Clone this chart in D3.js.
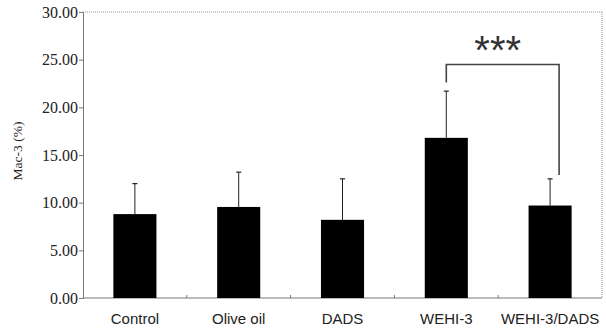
<!DOCTYPE html>
<html>
<head>
<meta charset="utf-8">
<script src="https://cdn.jsdelivr.net/npm/d3@7"></script>
<style>
  body { margin: 0; background: #fff; }
</style>
</head>
<body>
<div id="chart"></div>
<script>
var w = 606;
var h = 329;

var categories = ["Control", "Olive oil", "DADS", "WEHI-3", "WEHI-3/DADS"];
var means = [8.8, 9.55, 8.2, 16.8, 9.7];
var errors = [3.2, 3.65, 4.3, 4.9, 2.8];
var yTicks = [0, 5, 10, 15, 20, 25, 30];
// significance bracket between WEHI-3 and WEHI-3/DADS
var sigPair = ["WEHI-3", "WEHI-3/DADS"];
var sigLabel = "***";
var sigTop = 24.5;
var sigLeftEnd = 22.6;
var sigRightEnd = 12.9;

var margin = {left: 83, right: 4, top: 12, bottom: 31};

var svg = d3.select("#chart").append("svg")
            .attr("width", w)
            .attr("height", h);

var x = d3.scaleBand()
          .domain(categories)
          .range([margin.left, w - margin.right])
          .paddingInner(0.585)
          .paddingOuter(0.2925);

var step = x.step();

var y = d3.scaleLinear()
          .domain([0, 30])
          .range([h - margin.bottom, margin.top]);

// frame: dotted top and right
svg.append("line")
   .attr("x1", margin.left).attr("x2", w - margin.right)
   .attr("y1", y(30)).attr("y2", y(30))
   .attr("stroke", "#999").attr("stroke-width", 1)
   .attr("stroke-dasharray", "1,1");
svg.append("line")
   .attr("x1", w - margin.right).attr("x2", w - margin.right)
   .attr("y1", y(30)).attr("y2", y(0))
   .attr("stroke", "#999").attr("stroke-width", 1)
   .attr("stroke-dasharray", "1,1");

// y axis
var yAxis = d3.axisLeft(y)
              .tickValues(yTicks)
              .tickSize(4)
              .tickFormat(d3.format(".2f"));
var gy = svg.append("g")
            .attr("transform", "translate(" + margin.left + ",0)")
            .call(yAxis);
gy.select(".domain").attr("stroke", "#777");
gy.selectAll(".tick line").attr("stroke", "#777");
gy.selectAll(".tick text")
  .attr("x", -5)
  .style("font-family", "'Liberation Serif', 'Times New Roman', serif")
  .style("font-size", "16px")
  .attr("fill", "#222");

// x axis with category boundary ticks inside
svg.append("line")
   .attr("x1", margin.left).attr("x2", w - margin.right)
   .attr("y1", y(0)).attr("y2", y(0))
   .attr("stroke", "#777").attr("stroke-width", 1);
svg.selectAll(".xtick")
   .data(categories.slice(1))
   .enter()
   .append("line")
   .attr("class", "xtick")
   .attr("x1", function(d) { return x(d) + x.bandwidth() / 2 - step / 2; })
   .attr("x2", function(d) { return x(d) + x.bandwidth() / 2 - step / 2; })
   .attr("y1", y(0)).attr("y2", y(0) - 3)
   .attr("stroke", "#777");

svg.selectAll(".xlabel")
   .data(categories)
   .enter()
   .append("text")
   .attr("class", "xlabel")
   .attr("x", function(d) { return x(d) + x.bandwidth() / 2; })
   .attr("y", 324)
   .attr("text-anchor", "middle")
   .style("font-family", "'Liberation Sans', Arial, sans-serif")
   .style("font-size", "15px")
   .attr("fill", "#222")
   .text(function(d) { return d; });

// y title
svg.append("text")
   .attr("transform", "translate(22," + 151 + ") rotate(-90)")
   .attr("text-anchor", "middle")
   .style("font-family", "'Liberation Serif', 'Times New Roman', serif")
   .style("font-size", "13.5px")
   .attr("fill", "#222")
   .text("Mac-3 (%)");

// error bars
svg.selectAll(".err")
   .data(categories)
   .enter()
   .append("line")
   .attr("class", "err")
   .attr("x1", function(d) { return x(d) + x.bandwidth() / 2; })
   .attr("x2", function(d) { return x(d) + x.bandwidth() / 2; })
   .attr("y1", function(d, i) { return y(means[i]); })
   .attr("y2", function(d, i) { return y(means[i] + errors[i]); })
   .attr("stroke", "#222").attr("stroke-width", 1);
svg.selectAll(".cap")
   .data(categories)
   .enter()
   .append("line")
   .attr("class", "cap")
   .attr("x1", function(d) { return x(d) + x.bandwidth() / 2 - 2.5; })
   .attr("x2", function(d) { return x(d) + x.bandwidth() / 2 + 2.5; })
   .attr("y1", function(d, i) { return y(means[i] + errors[i]); })
   .attr("y2", function(d, i) { return y(means[i] + errors[i]); })
   .attr("stroke", "#222").attr("stroke-width", 1.2);

// bars
svg.selectAll(".bar")
   .data(categories)
   .enter()
   .append("rect")
   .attr("class", "bar")
   .attr("x", function(d) { return x(d); })
   .attr("width", x.bandwidth())
   .attr("y", function(d, i) { return y(means[i]); })
   .attr("height", function(d, i) { return y(0) - y(means[i]); })
   .style("fill", "#000");

// significance bracket
var bx1 = x(sigPair[0]) + x.bandwidth() / 2;
var bx2 = x(sigPair[1]) + x.bandwidth() / 2 + 9;
svg.append("path")
   .attr("d", "M" + bx1 + "," + y(sigLeftEnd) +
              "V" + y(sigTop) +
              "H" + bx2 +
              "V" + y(sigRightEnd))
   .attr("fill", "none")
   .attr("stroke", "#444")
   .attr("stroke-width", 1.6);

svg.append("text")
   .attr("x", (bx1 + bx2) / 2 - 5)
   .attr("y", 64)
   .attr("text-anchor", "middle")
   .style("font-family", "'Liberation Sans', Arial, sans-serif")
   .style("font-size", "40px")
   .attr("fill", "#333")
   .text(sigLabel);
</script>
</body>
</html>
